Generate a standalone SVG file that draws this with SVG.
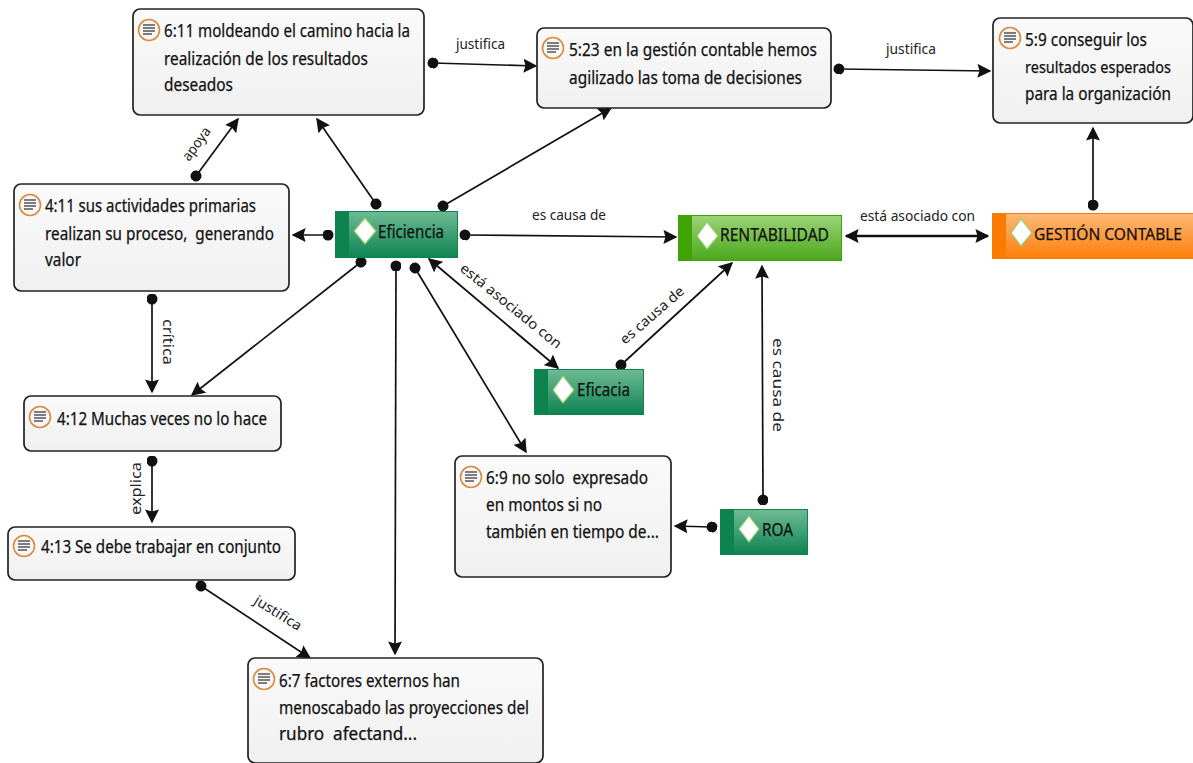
<svg xmlns="http://www.w3.org/2000/svg" width="1193" height="763" viewBox="0 0 1193 763">
<style>
text{font-family:"Noto Sans","Open Sans","DejaVu Sans",sans-serif;fill:#111;white-space:pre}
.t,.c{font-size:17.5px;stroke:#111;stroke-width:.25}
.s{font-size:16px}
.l{font-size:14px;fill:#222}
.box{fill:url(#bg);stroke:#222;stroke-width:1.7}
.ic{fill:#f7f7f7;stroke:#d98a3d;stroke-width:1.6}
.il{stroke:#555;stroke-width:1.5}
.ln{fill:none;stroke:#111;stroke-width:1.7;marker-end:url(#a);marker-start:url(#d)}
.bi{fill:none;stroke:#111;stroke-width:1.8;marker-end:url(#b);marker-start:url(#b)}
.dm{fill:#fff;stroke:#8fd06a;stroke-width:1.2}
</style>
<defs>
<marker id="a" viewBox="0 0 10 10" refX="9" refY="5" markerWidth="14" markerHeight="14" markerUnits="userSpaceOnUse" orient="auto"><path d="M0 0L10 5L0 10L1.5 5Z" fill="#111"/></marker>
<marker id="b" viewBox="0 0 10 10" refX="9" refY="5" markerWidth="14" markerHeight="14" markerUnits="userSpaceOnUse" orient="auto-start-reverse"><path d="M0 0L10 5L0 10L1.5 5Z" fill="#111"/></marker>
<marker id="d" viewBox="0 0 10 10" refX="5" refY="5" markerWidth="11" markerHeight="11" markerUnits="userSpaceOnUse" orient="auto"><circle cx="5" cy="5" r="5" fill="#111"/></marker>
<linearGradient id="bg" x1="0" y1="0" x2="0" y2="1"><stop offset="0" stop-color="#fafafa"/><stop offset="1" stop-color="#f0f0f0"/></linearGradient>
<linearGradient id="gd" x1="0" y1="0" x2="0" y2="1"><stop offset="0" stop-color="#6dba94"/><stop offset="1" stop-color="#0f8453"/></linearGradient>
<linearGradient id="gl" x1="0" y1="0" x2="0" y2="1"><stop offset="0" stop-color="#9bd377"/><stop offset="1" stop-color="#4ba81c"/></linearGradient>
<linearGradient id="or" x1="0" y1="0" x2="0" y2="1"><stop offset="0" stop-color="#fdb877"/><stop offset="1" stop-color="#fd7f0a"/></linearGradient>
<g id="doc"><circle cx="0" cy="0" r="10.5" class="ic"/><path class="il" d="M-6-5H6M-6-2H6M-6 1H6M-6 4H3"/></g>
</defs>
<rect width="1193" height="763" fill="#fff"/>
<g id="connectors">
<path class="ln" d="M433 63L536 66"/>
<path class="ln" d="M839 69L990 71"/>
<path class="ln" d="M196 176L238 119"/>
<path class="ln" d="M376 204L317 119"/>
<path class="ln" d="M443 206L611 108"/>
<path class="ln" d="M328 235L293 235"/>
<path class="ln" d="M465 235L676 237"/>
<path class="ln" d="M1093 205L1093 128"/>
<path class="ln" d="M361 262L192 395"/>
<path class="ln" d="M396 266L395 654"/>
<path class="ln" d="M415 268L526 452"/>
<path class="ln" d="M152 299L152 392"/>
<path class="ln" d="M152 461L152 522"/>
<path class="ln" d="M201 586L310 658"/>
<path class="ln" d="M621 365L732 263"/>
<path class="ln" d="M763 500L762 266"/>
<path class="ln" d="M712 527L675 526"/>
<path class="bi" d="M429 259L558 368"/>
<path class="bi" d="M846 236L988 236" style="stroke-width:2.4"/>
<text class="l" x="456" y="49" textLength="49" lengthAdjust="spacingAndGlyphs">justifica</text>
<text class="l" x="886" y="54" textLength="50" lengthAdjust="spacingAndGlyphs">justifica</text>
<text class="l" x="532" y="220" textLength="74" lengthAdjust="spacingAndGlyphs">es causa de</text>
<text class="l" x="860" y="221" textLength="115" lengthAdjust="spacingAndGlyphs">está asociado con</text>
<text class="l" transform="translate(189 162) rotate(-54)" textLength="38" lengthAdjust="spacingAndGlyphs">apoya</text>
<text class="l" transform="translate(459 270) rotate(39)" textLength="126" lengthAdjust="spacingAndGlyphs">está asociado con</text>
<text class="l" transform="translate(625 345) rotate(-41)" textLength="80" lengthAdjust="spacingAndGlyphs">es causa de</text>
<text class="l" transform="translate(773 338) rotate(90)" textLength="94" lengthAdjust="spacingAndGlyphs">es causa de</text>
<text class="l" transform="translate(163 319) rotate(90)" textLength="46" lengthAdjust="spacingAndGlyphs">crítica</text>
<text class="l" transform="translate(141 515) rotate(-90)" textLength="53" lengthAdjust="spacingAndGlyphs">explica</text>
<text class="l" transform="translate(253 603) rotate(32)" textLength="53" lengthAdjust="spacingAndGlyphs">justifica</text>
</g>
<g id="n611"><rect class="box" x="133" y="9" width="291" height="106" rx="7"/><use href="#doc" x="149" y="30"/><text class="t" x="164" y="37" textLength="246" lengthAdjust="spacingAndGlyphs">6:11 moldeando el camino hacia la</text><text class="t" x="164" y="65" textLength="204" lengthAdjust="spacingAndGlyphs">realización de los resultados</text><text class="t" x="164" y="91" textLength="69" lengthAdjust="spacingAndGlyphs">deseados</text></g>
<g id="n523"><rect class="box" x="537" y="28" width="294" height="80" rx="7"/><use href="#doc" x="553" y="48"/><text class="t" x="569" y="56" textLength="248" lengthAdjust="spacingAndGlyphs">5:23 en la gestión contable hemos</text><text class="t" x="569" y="84" textLength="233" lengthAdjust="spacingAndGlyphs">agilizado las toma de decisiones</text></g>
<g id="n59"><rect class="box" x="993" y="18" width="200" height="105" rx="7"/><use href="#doc" x="1010" y="38"/><text class="t" x="1025" y="46" textLength="122" lengthAdjust="spacingAndGlyphs">5:9 conseguir los</text><text class="t s" x="1025" y="73" textLength="146" lengthAdjust="spacingAndGlyphs">resultados esperados</text><text class="t" x="1025" y="100" textLength="146" lengthAdjust="spacingAndGlyphs">para la organización</text></g>
<g id="n411"><rect class="box" x="14" y="184" width="275" height="107" rx="7"/><use href="#doc" x="30" y="205"/><text class="t" x="45" y="212" textLength="211" lengthAdjust="spacingAndGlyphs">4:11 sus actividades primarias</text><text class="t" x="45" y="240" textLength="229" lengthAdjust="spacingAndGlyphs">realizan su proceso,  generando</text><text class="t" x="45" y="266" textLength="36" lengthAdjust="spacingAndGlyphs">valor</text></g>
<g id="n412"><rect class="box" x="24" y="396" width="257" height="55" rx="7"/><use href="#doc" x="40" y="417"/><text class="t" x="57" y="425" textLength="210" lengthAdjust="spacingAndGlyphs">4:12 Muchas veces no lo hace</text></g>
<g id="n413"><rect class="box" x="8" y="527" width="287" height="53" rx="7"/><use href="#doc" x="24" y="546"/><text class="t" x="41" y="553" textLength="240" lengthAdjust="spacingAndGlyphs">4:13 Se debe trabajar en conjunto</text></g>
<g id="n67"><rect class="box" x="248" y="658" width="295" height="105" rx="7"/><use href="#doc" x="264" y="679"/><text class="t" x="279" y="687" textLength="181" lengthAdjust="spacingAndGlyphs">6:7 factores externos han</text><text class="t" x="279" y="714" textLength="250" lengthAdjust="spacingAndGlyphs">menoscabado las proyecciones del</text><text class="t" x="279" y="740" textLength="138" lengthAdjust="spacingAndGlyphs">rubro  afectand...</text></g>
<g id="n69"><rect class="box" x="455" y="456" width="216" height="121" rx="7"/><use href="#doc" x="471" y="477"/><text class="t" x="486" y="484" textLength="162" lengthAdjust="spacingAndGlyphs">6:9 no solo  expresado</text><text class="t" x="486" y="511" textLength="116" lengthAdjust="spacingAndGlyphs">en montos si no</text><text class="t" x="486" y="538" textLength="173" lengthAdjust="spacingAndGlyphs">también en tiempo de...</text></g>
<g id="eficiencia"><rect x="335" y="211" width="123" height="47" fill="#0d8350"/><rect x="349" y="212" width="108" height="45" fill="url(#gd)"/><path class="dm" d="M365 218L376 231L365 244L354 231Z"/><text class="c" x="378" y="238" textLength="66" lengthAdjust="spacingAndGlyphs">Eficiencia</text></g>
<g id="eficacia"><rect x="534" y="369" width="110" height="46" fill="#0d8350"/><rect x="548" y="370" width="95" height="44" fill="url(#gd)"/><path class="dm" d="M563 376L574 390L563 403L553 390Z"/><text class="c" x="577" y="396" textLength="53" lengthAdjust="spacingAndGlyphs">Eficacia</text></g>
<g id="roa"><rect x="720" y="509" width="88" height="46" fill="#0d8350"/><rect x="734" y="510" width="73" height="44" fill="url(#gd)"/><path class="dm" d="M749 516L759 529L749 542L739 529Z"/><text class="c" x="762" y="536" textLength="31" lengthAdjust="spacingAndGlyphs">ROA</text></g>
<g id="rentabilidad"><rect x="678" y="215" width="164" height="46" fill="#41a208"/><rect x="692" y="216" width="149" height="44" fill="url(#gl)"/><path class="dm" d="M707 222L718 236L707 249L697 236Z"/><text class="c" x="720" y="241" textLength="109" lengthAdjust="spacingAndGlyphs">RENTABILIDAD</text></g>
<g id="gestion"><rect x="992" y="213" width="201" height="46" fill="#fb7a00"/><rect x="1006" y="214" width="187" height="44" fill="url(#or)"/><path class="dm" d="M1021 219L1032 233L1021 246L1011 233Z"/><text class="c s" x="1034" y="240" textLength="148" lengthAdjust="spacingAndGlyphs">GESTIÓN CONTABLE</text></g>
</svg>
